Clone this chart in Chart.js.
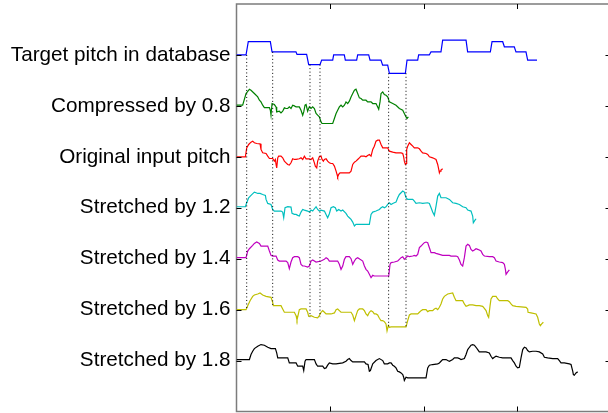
<!DOCTYPE html>
<html>
<head>
<meta charset="utf-8">
<script src="https://cdn.jsdelivr.net/npm/chart.js@4.4.1/dist/chart.umd.min.js"></script>
<style>
html,body{margin:0;padding:0;background:#fff;overflow:hidden;width:608px;height:413px;}
#wrap{position:absolute;left:0;top:0;width:612px;height:413px;}
</style>
</head>
<body>
<div id="wrap"><canvas id="c" width="612" height="413"></canvas></div>
<script>
// Category labels (top to bottom) and their baseline positions on the y axis
const seriesLabels = ["Target pitch in database","Compressed by 0.8","Original input pitch","Stretched by 1.2","Stretched by 1.4","Stretched by 1.6","Stretched by 1.8"];
const seriesLevels = [7,6,5,4,3,2,1];
const xTicks = [100,200,300];

// Pitch curves: [frame, value]
const targetPitch = [[0,7.0],[10.2,7.0],[12.6,7.26],[36.2,7.26],[38.0,7.06],[63.6,7.06],[64.7,7.01],[75.0,7.01],[77.2,6.81],[89.3,6.81],[91.1,6.90],[102.9,6.90],[103.9,7.0],[115.3,7.0],[116.4,6.90],[128.5,6.90],[129.6,7.0],[141.4,7.0],[142.8,6.90],[154.5,6.90],[156.3,6.80],[161.7,6.80],[163.5,6.64],[180.6,6.64],[182.4,6.90],[193.8,6.90],[194.8,7.0],[206.2,7.0],[208.0,7.06],[218.7,7.06],[220.5,7.29],[245.5,7.29],[247.2,7.06],[271.5,7.06],[273.3,7.26],[284.7,7.26],[286.5,7.16],[297.1,7.16],[298.9,7.06],[309.6,7.06],[311.4,6.90],[321.4,6.90]];

const compressed08 = [[0,6.013],[6.6,6.013],[10.2,6.242],[13.8,6.327],[15.5,6.307],[19.1,6.242],[22.7,6.176],[24.5,6.111],[26.2,6.078],[28.0,6.013],[29.8,5.967],[35.2,5.967],[36.2,5.915],[36.9,5.817],[38.0,6.046],[40.5,6.026],[42.3,5.980],[43.0,5.882],[45.8,5.895],[47.6,5.863],[49.4,5.895],[51.2,5.961],[53.0,5.948],[54.8,5.948],[56.5,5.980],[58.3,5.948],[60.1,6.013],[61.9,6.0],[63.7,5.980],[67.2,5.980],[69.0,5.915],[70.8,5.817],[71.9,5.882],[73.3,6.013],[74.4,6.026],[76.1,5.895],[77.9,5.980],[79.7,5.948],[81.5,5.980],[83.3,5.948],[85.1,5.850],[86.8,5.817],[88.6,5.784],[90.4,5.686],[91.5,5.654],[102.9,5.654],[104.7,5.752],[106.5,5.850],[108.2,5.915],[110.0,5.980],[111.8,6.013],[113.6,5.980],[115.4,6.013],[117.1,6.078],[118.9,6.046],[120.7,6.092],[122.5,6.176],[124.3,6.242],[126.1,6.307],[127.8,6.327],[129.6,6.242],[131.4,6.157],[133.2,6.144],[135.0,6.111],[138.5,6.111],[140.3,6.078],[143.9,6.078],[145.7,6.046],[149.2,6.046],[151.0,5.980],[152.1,5.935],[153.5,6.078],[154.6,6.242],[156.4,6.275],[158.1,6.222],[159.9,6.209],[161.7,6.176],[163.5,6.078],[167.1,6.046],[170.6,6.013],[174.2,5.948],[177.8,5.915],[179.5,5.850],[181.3,5.784],[182.4,5.752],[183.8,5.784]];

const originalPitch = [[0,5.0],[9.5,5.0],[10.9,5.176],[13.0,5.242],[15.5,5.288],[17.3,5.307],[19.1,5.275],[21.6,5.261],[25.2,5.255],[26.2,5.144],[28.0,5.078],[31.6,5.065],[33.4,5.013],[35.2,4.967],[38.7,4.967],[40.5,4.915],[41.6,4.948],[42.3,4.850],[43.0,4.784],[44.1,4.980],[45.1,5.013],[47.6,5.013],[49.4,4.980],[51.2,4.915],[53.0,4.882],[54.8,4.850],[56.5,4.837],[58.3,4.882],[60.1,4.961],[61.9,4.948],[63.7,4.948],[67.2,4.961],[69.0,4.980],[70.8,4.948],[72.6,5.013],[74.4,4.961],[77.9,4.961],[79.7,4.948],[81.5,4.980],[83.3,4.882],[84.3,4.817],[85.8,4.784],[86.8,4.915],[88.6,5.0],[90.4,5.013],[91.5,4.948],[92.9,4.915],[94.0,4.948],[95.8,4.961],[97.5,4.915],[99.3,4.882],[101.1,4.869],[102.9,4.869],[104.7,4.817],[106.5,4.719],[107.5,4.654],[108.2,4.608],[109.3,4.654],[110.7,4.686],[120.7,4.686],[122.5,4.719],[124.3,4.850],[126.1,4.895],[127.8,4.915],[129.6,4.948],[131.4,4.980],[133.2,5.013],[136.8,5.013],[138.5,5.0],[140.3,5.026],[142.1,5.046],[143.9,5.013],[145.7,5.144],[147.4,5.209],[149.2,5.307],[151.0,5.327],[152.8,5.327],[154.6,5.242],[156.4,5.176],[161.7,5.176],[163.5,5.111],[167.1,5.092],[170.6,5.078],[176.0,5.078],[177.8,5.065],[178.8,5.0],[179.5,4.915],[180.6,4.850],[181.3,4.869],[182.0,5.144],[183.1,5.209],[184.9,5.275],[186.7,5.242],[188.5,5.209],[190.2,5.176],[193.8,5.176],[195.6,5.157],[197.4,5.111],[199.1,5.078],[202.7,5.065],[204.5,5.046],[206.3,5.0],[209.8,4.980],[213.4,4.948],[215.2,4.850],[216.3,4.752],[217.0,4.686],[217.7,4.719],[218.7,4.739],[220.5,4.765]];

const stretched12 = [[0,4.02],[9.5,4.02],[10.9,4.098],[13.0,4.196],[15.5,4.242],[19.1,4.307],[20.9,4.294],[22.7,4.281],[25.2,4.281],[28.0,4.261],[30.9,4.242],[31.6,4.163],[33.4,4.085],[36.9,4.065],[38.7,3.967],[40.5,3.935],[47.6,3.935],[49.4,3.915],[50.5,3.804],[51.9,4.0],[54.8,4.020],[58.3,4.013],[59.4,3.889],[61.9,3.869],[63.7,3.869],[65.5,3.850],[67.2,3.837],[69.0,3.915],[70.8,3.967],[72.6,3.954],[76.1,3.935],[77.9,3.915],[79.7,3.954],[81.5,3.935],[83.3,3.980],[85.1,4.020],[86.8,3.967],[88.6,3.935],[90.4,3.954],[94.0,3.935],[95.8,3.869],[97.5,3.804],[99.3,3.882],[101.1,4.0],[103.6,4.020],[105.7,4.0],[107.2,3.935],[109.3,3.967],[111.8,3.935],[113.6,3.954],[117.1,3.889],[118.9,3.837],[120.7,3.804],[122.5,3.771],[124.3,3.719],[126.1,3.641],[127.8,3.673],[142.1,3.673],[143.9,3.869],[145.7,3.915],[149.2,3.935],[152.8,3.967],[154.6,4.0],[156.4,4.020],[158.1,4.0],[159.9,4.020],[161.7,4.065],[163.5,4.098],[165.3,4.065],[167.1,4.085],[168.8,4.098],[170.6,4.111],[172.4,4.196],[174.2,4.261],[176.0,4.294],[177.8,4.327],[179.5,4.307],[181.3,4.196],[183.1,4.163],[188.5,4.163],[190.2,4.131],[192.0,4.085],[195.6,4.098],[199.1,4.085],[204.5,4.098],[206.3,4.085],[208.1,4.0],[209.8,3.915],[211.6,3.850],[213.4,4.033],[215.2,4.229],[217.0,4.281],[218.7,4.196],[224.1,4.196],[227.7,4.163],[231.2,4.098],[234.8,4.085],[238.4,4.065],[241.9,4.020],[245.5,4.0],[247.3,3.954],[250.8,3.935],[252.6,3.837],[253.3,3.706],[255.1,3.758],[256.2,3.784]];

const stretched14 = [[0,3.02],[10.2,3.02],[12.0,3.150],[13.8,3.196],[17.3,3.261],[19.1,3.301],[21.6,3.327],[24.5,3.301],[26.2,3.248],[33.4,3.248],[35.2,3.150],[36.9,3.065],[38.7,3.052],[42.3,3.052],[44.1,2.974],[45.8,2.954],[53.0,2.954],[54.8,2.922],[56.5,2.804],[58.3,2.935],[60.1,3.020],[61.9,3.039],[65.5,3.039],[67.2,3.020],[69.0,2.889],[70.8,2.856],[72.6,2.856],[76.1,2.837],[77.9,2.856],[79.7,2.954],[81.5,2.974],[85.1,2.935],[90.4,2.954],[94.0,2.987],[95.8,3.020],[97.5,3.000],[99.3,2.954],[102.9,2.954],[108.2,2.954],[110.0,2.889],[111.8,2.791],[113.6,2.856],[115.4,2.987],[117.1,3.039],[120.7,3.039],[122.5,3.000],[124.3,2.889],[126.1,2.954],[127.8,3.000],[129.6,3.020],[132.1,2.987],[135.0,2.954],[136.8,2.856],[138.5,2.791],[140.3,2.758],[142.1,2.693],[143.9,2.627],[145.7,2.673],[147.4,2.660],[162.8,2.660],[164.2,2.889],[165.3,2.922],[168.8,2.935],[172.4,2.954],[174.2,2.987],[176.0,3.020],[177.8,3.039],[179.5,2.987],[181.3,3.020],[183.1,3.052],[184.9,3.039],[188.5,3.052],[190.2,3.065],[192.0,3.052],[193.8,3.085],[195.6,3.216],[197.4,3.248],[199.1,3.281],[200.9,3.314],[202.7,3.327],[204.5,3.314],[206.3,3.216],[208.1,3.118],[211.6,3.118],[213.4,3.105],[217.0,3.085],[220.5,3.065],[227.7,3.065],[229.4,3.052],[234.8,3.052],[236.6,3.039],[238.4,2.974],[240.1,2.889],[241.9,2.856],[243.7,3.020],[245.5,3.248],[247.3,3.281],[249.1,3.261],[250.8,3.183],[252.6,3.150],[254.4,3.170],[256.2,3.196],[258.0,3.183],[259.7,3.170],[261.5,3.150],[263.3,3.085],[265.1,3.052],[270.4,3.039],[274.0,3.039],[275.8,3.020],[277.6,2.954],[281.1,2.935],[284.7,2.922],[286.5,2.889],[287.6,2.791],[288.3,2.693],[290.1,2.739],[291.8,2.778]];

const stretched16 = [[0,2.0],[10.2,2.0],[12.0,2.078],[14.5,2.176],[17.3,2.261],[19.1,2.288],[22.7,2.307],[25.2,2.327],[28.0,2.288],[31.6,2.261],[36.9,2.242],[38.7,2.144],[39.4,2.078],[47.6,2.078],[49.4,2.013],[51.2,1.948],[61.9,1.948],[63.7,1.882],[64.7,1.797],[66.2,1.915],[67.2,2.0],[69.0,2.013],[74.4,2.013],[76.1,1.948],[77.2,1.869],[79.7,1.882],[83.3,1.850],[86.8,1.837],[88.6,1.882],[90.4,1.948],[92.2,1.980],[94.0,1.948],[95.8,1.915],[101.1,1.915],[104.7,1.935],[106.5,2.0],[108.2,2.013],[110.0,1.980],[111.8,1.948],[122.5,1.948],[124.3,1.895],[126.1,1.784],[127.8,1.882],[129.6,1.980],[131.4,2.013],[135.0,2.013],[136.8,1.980],[138.5,1.915],[140.3,1.882],[142.1,1.948],[143.9,1.980],[145.7,1.961],[147.4,1.915],[149.2,1.915],[151.0,1.895],[152.8,1.830],[154.6,1.784],[156.4,1.784],[158.1,1.765],[159.9,1.719],[161.0,1.582],[162.4,1.686],[163.5,1.654],[165.3,1.660],[181.3,1.660],[183.1,1.784],[184.9,1.895],[186.7,1.915],[193.8,1.915],[195.6,1.948],[197.4,1.980],[199.1,2.0],[202.7,2.0],[204.5,1.961],[206.3,1.980],[209.8,1.980],[211.6,2.013],[213.4,2.026],[215.2,2.0],[217.0,2.046],[218.7,2.111],[220.5,2.209],[222.3,2.261],[225.9,2.307],[231.2,2.327],[233.0,2.242],[234.8,2.176],[241.9,2.176],[243.7,2.111],[245.5,2.065],[247.3,2.078],[249.1,2.092],[252.6,2.092],[256.2,2.078],[259.7,2.078],[263.3,2.065],[265.1,2.026],[266.9,1.980],[268.7,1.882],[269.7,1.850],[271.2,2.078],[272.2,2.209],[274.0,2.261],[277.6,2.261],[279.4,2.209],[281.1,2.176],[290.1,2.176],[291.8,2.157],[293.6,2.111],[295.4,2.078],[299.0,2.065],[309.7,2.046],[311.4,2.013],[311.8,1.948],[315.0,1.935],[320.4,1.915],[322.1,1.850],[323.9,1.719],[325.0,1.686],[326.4,1.719],[328.2,1.752]];

const stretched18 = [[0,1.02],[13.8,1.02],[15.5,1.118],[17.3,1.183],[19.1,1.235],[22.7,1.281],[26.2,1.314],[29.8,1.301],[33.4,1.261],[36.9,1.235],[41.6,1.235],[43.0,1.150],[44.1,1.052],[54.8,1.052],[56.5,0.954],[63.7,0.954],[65.5,0.889],[70.8,0.889],[71.9,0.804],[73.3,0.987],[74.4,1.020],[83.3,1.020],[85.1,0.935],[86.8,0.889],[92.2,0.889],[94.0,0.843],[95.8,0.856],[97.5,0.909],[99.3,0.954],[102.9,0.935],[106.5,0.935],[113.6,0.954],[117.1,0.987],[118.9,1.020],[120.7,1.039],[122.5,1.000],[124.3,0.974],[136.8,0.974],[138.5,0.935],[140.7,0.922],[142.1,0.791],[143.2,0.804],[145.7,0.935],[149.2,1.000],[152.8,1.039],[156.4,1.000],[158.1,0.935],[161.7,0.935],[163.5,0.954],[165.3,0.954],[167.1,0.909],[168.8,0.889],[170.6,0.856],[172.4,0.791],[174.2,0.778],[176.0,0.758],[177.8,0.725],[178.8,0.673],[179.5,0.608],[181.3,0.673],[183.1,0.660],[202.7,0.660],[204.5,0.856],[206.3,0.909],[209.8,0.922],[215.2,0.935],[217.0,0.954],[218.7,0.987],[220.5,1.020],[224.1,1.020],[225.9,1.000],[227.7,0.987],[231.2,1.020],[233.0,1.052],[236.6,1.052],[238.4,1.039],[240.1,1.020],[243.7,1.039],[245.5,1.118],[247.3,1.216],[249.1,1.261],[250.8,1.301],[252.6,1.314],[254.4,1.301],[256.2,1.261],[258.0,1.216],[259.7,1.170],[266.9,1.170],[270.4,1.150],[272.2,1.085],[274.0,1.039],[275.8,1.065],[277.6,1.085],[281.1,1.065],[284.7,1.052],[293.6,1.052],[295.4,1.000],[297.2,0.954],[299.0,0.889],[300.7,0.856],[302.5,0.869],[304.3,1.052],[306.1,1.216],[307.9,1.261],[309.7,1.248],[311.4,1.196],[313.2,1.170],[316.8,1.183],[320.4,1.183],[323.9,1.170],[327.5,1.131],[329.3,1.065],[332.8,1.052],[338.2,1.039],[343.5,1.039],[345.3,1.000],[347.1,0.954],[350.6,0.954],[356.0,0.935],[357.8,0.922],[359.6,0.791],[360.3,0.725],[361.3,0.712],[363.1,0.758],[364.9,0.778]];

// Alignment (dotted) lines: frame, top value, bottom value
const alignX = [10.9, 38.7, 78.6, 89.3, 162.7, 181.3];
const alignTop = [7.0, 7.06, 6.81, 6.81, 6.64, 6.64];
const alignBottom = [2.03, 2.065, 1.853, 1.853, 1.657, 1.657];

const curves = [targetPitch, compressed08, originalPitch, stretched12, stretched14, stretched16, stretched18];
const colors = ['#0000ff','#008000','#ff0000','#00bfbf','#bf00bf','#bfbf00','#000000'];

const datasets = [];
alignX.forEach((xv, i) => {
  datasets.push({
    data: [{x: xv, y: alignTop[i]}, {x: xv, y: alignBottom[i]}],
    borderColor: '#000', borderWidth: 1, borderDash: [1, 2.5], pointRadius: 0, fill: false
  });
});
curves.forEach((c, i) => {
  datasets.push({
    label: seriesLabels[i],
    data: c.map(p => ({x: p[0], y: p[1]})),
    borderColor: colors[i], borderWidth: 1.2, pointRadius: 0, fill: false, tension: 0
  });
});

const frame = {
  id: 'frame',
  beforeDatasetsDraw(chart) {
    const {ctx, chartArea: a} = chart;
    ctx.save();
    ctx.strokeStyle = '#7c7c7c';
    ctx.lineWidth = 1.5;
    ctx.strokeRect(a.left, a.top, a.right - a.left, a.bottom - a.top);
    ctx.restore();
  },
  afterDatasetsDraw(chart) {
    const {ctx, chartArea: a, scales: {x, y}} = chart;
    const L = 5;
    ctx.save();
    ctx.strokeStyle = '#000';
    ctx.lineWidth = 1;
    ctx.beginPath();
    x.ticks.forEach(t => {
      if (t.value <= x.min || t.value >= x.max) return;
      const px = Math.round(x.getPixelForValue(t.value)) + 0.5;
      ctx.moveTo(px, a.top); ctx.lineTo(px, a.top + L);
      ctx.moveTo(px, a.bottom); ctx.lineTo(px, a.bottom - L);
    });
    y.ticks.forEach(t => {
      if (t.value <= y.min || t.value >= y.max) return;
      const py = Math.round(y.getPixelForValue(t.value)) + 0.5;
      ctx.moveTo(a.left, py); ctx.lineTo(a.left + L, py);
      ctx.moveTo(a.right, py); ctx.lineTo(a.right - L, py);
    });
    ctx.stroke();
    ctx.restore();
  }
};

Chart.defaults.font.family = "'Liberation Sans', Arial, sans-serif";

new Chart(document.getElementById('c'), {
  type: 'line',
  data: {datasets},
  options: {
    responsive: false,
    animation: false,
    events: [],
    layout: {padding: {top: 4, right: 1.5, bottom: 1.5, left: 0}},
    plugins: {legend: {display: false}, tooltip: {enabled: false}, title: {display: false}},
    scales: {
      x: {
        type: 'linear', min: 0, max: 400,
        afterBuildTicks: s => { s.ticks = [0, ...xTicks, 400].map(v => ({value: v})); },
        grid: {display: false, drawTicks: false},
        border: {display: false},
        ticks: {display: false},
        afterFit: s => { s.height = 0; s.paddingLeft = 0; s.paddingRight = 0; }
      },
      y: {
        type: 'linear', min: 0, max: 8,
        afterBuildTicks: s => { s.ticks = [0, ...seriesLevels.slice().reverse(), 8].map(v => ({value: v})); },
        grid: {display: false, drawTicks: false},
        border: {display: false},
        ticks: {
          autoSkip: false,
          padding: 6,
          color: '#000',
          font: {size: 20.7, family: "'Liberation Sans', Arial, sans-serif"},
          callback: v => { const i = seriesLevels.indexOf(v); return i >= 0 ? seriesLabels[i] : ''; }
        },
        afterFit: s => { s.width = 236.5; s.paddingTop = 0; s.paddingBottom = 0; }
      }
    }
  },
  plugins: [frame]
});
</script>
</body>
</html>
